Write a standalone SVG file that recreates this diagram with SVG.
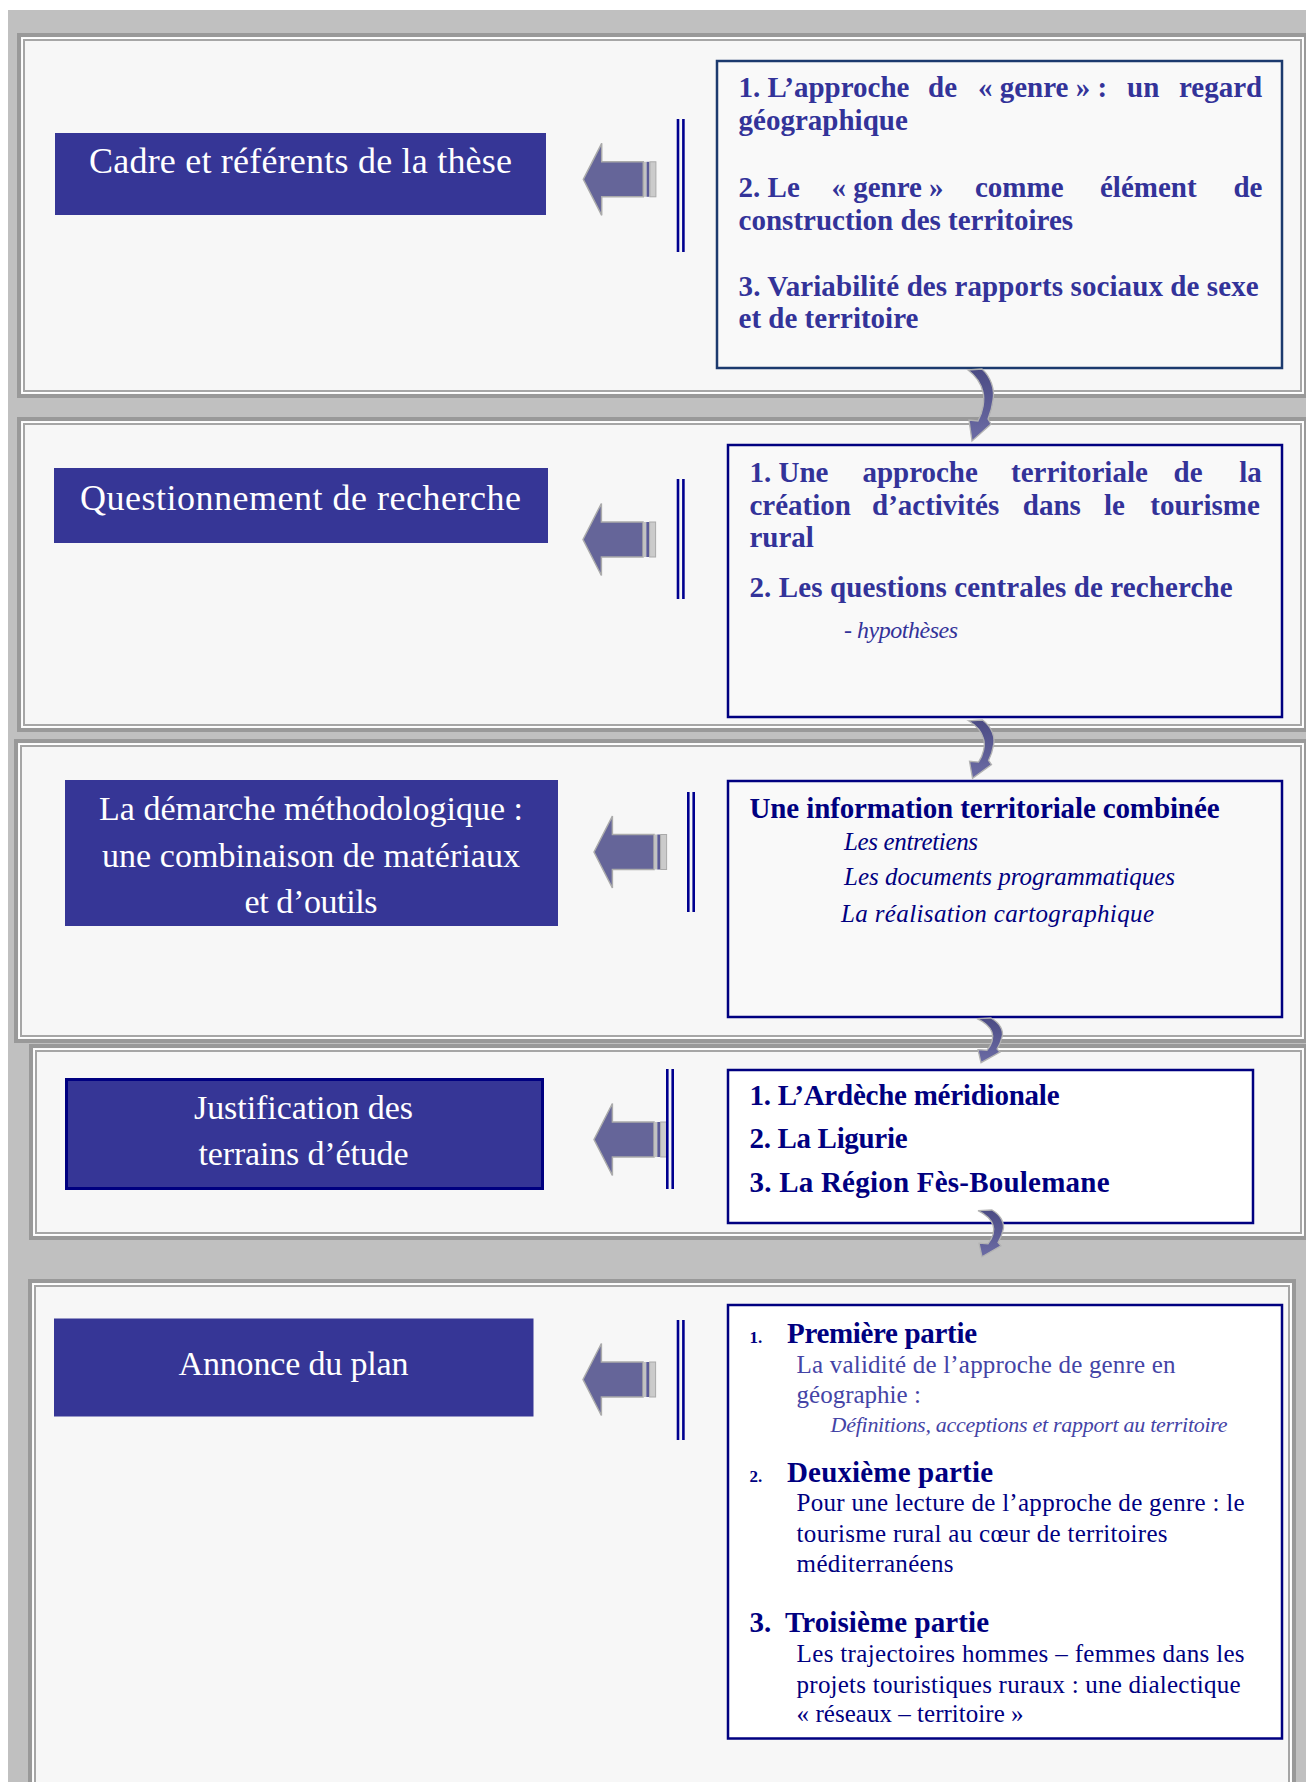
<svg xmlns="http://www.w3.org/2000/svg" xmlns:xlink="http://www.w3.org/1999/xlink" width="1306" height="1782" viewBox="0 0 1306 1782">
<style>
.pa{fill:#f7f7f7;stroke:#999;stroke-width:4}
.pb{fill:none;stroke:#fff;stroke-width:1.5}
.pc{fill:none;stroke:#a6a6a6;stroke-width:2}
.blue{fill:#363696}
.rbox{fill:#f9f9f9;stroke:#000080;stroke-width:2.5}
.wbox{fill:#fff;stroke:#000080;stroke-width:2.5}
.ttl{font-family:"Liberation Serif","Times New Roman",serif;fill:#fff;text-anchor:middle}
.tx{font-family:"Liberation Serif","Times New Roman",serif}
.b29{font-size:29px;font-weight:bold}
.c1{fill:#333399}
.c2{fill:#000080}
.c3{fill:#4444a6}
.it{font-style:italic}
.dl{stroke:#00008f;stroke-width:2.6}
</style>
<defs>
<linearGradient id="curlGrad" x1="0" y1="0" x2="0" y2="1">
<stop offset="0" stop-color="#4b4b84"/>
<stop offset="1" stop-color="#6c6ca5"/>
</linearGradient>
<path id="curl" d="M 0 1 L 14 0 C 23 8, 27 21, 25 31 C 24 39, 22 45, 20 50 L 23 55 L 4 72 L 1 51 L 10 52 C 15 43, 17 31, 15 23 C 13 14, 8 7, 0 1 Z" fill="url(#curlGrad)" stroke="#b3b3b3" stroke-width="1.3" vector-effect="non-scaling-stroke"/>
<g id="larrow">
<path d="M0,0 L18.4,-36 L18.4,-17.5 L60,-17.5 L60,17.5 L18.4,17.5 L18.4,36 Z" fill="#656599" stroke="#ababab" stroke-width="1.5"/>
<rect x="60.5" y="-17.5" width="2.8" height="35" fill="#c2c2c2"/>
<rect x="63.3" y="-17.5" width="2.8" height="35" fill="#5a5a96"/>
<rect x="66.6" y="-17.5" width="6" height="35" fill="#cbcbcb" stroke="#aaa" stroke-width="1"/>
</g>
</defs>

<rect x="0" y="0" width="1306" height="1782" fill="#fff"/>
<rect x="8" y="10" width="1298" height="1772" fill="#c0c0c0"/>

<g id="panel1">
<rect class="pa" x="19" y="35" width="1287" height="361"/>
<rect class="pb" x="22.25" y="38.25" width="1280.5" height="354.5"/>
<rect class="pc" x="24" y="40" width="1277" height="351"/>
</g>
<g id="panel2">
<rect class="pa" x="19" y="419" width="1287" height="311"/>
<rect class="pb" x="22.25" y="422.25" width="1280.5" height="304.5"/>
<rect class="pc" x="24" y="424" width="1277" height="301"/>
</g>
<g id="panel3">
<rect class="pa" x="16" y="741" width="1290" height="300"/>
<rect class="pb" x="19.25" y="744.25" width="1283.5" height="293.5"/>
<rect class="pc" x="21" y="746" width="1280" height="290"/>
</g>
<g id="panel4">
<rect class="pa" x="31" y="1046" width="1275" height="192"/>
<rect class="pb" x="34.25" y="1049.25" width="1268.5" height="185.5"/>
<rect class="pc" x="36" y="1051" width="1265" height="182"/>
</g>
<g id="panel5">
<rect class="pa" x="30" y="1281" width="1264" height="517"/>
<rect class="pb" x="33.25" y="1284.25" width="1257.5" height="510.5"/>
<rect class="pc" x="35" y="1286" width="1254" height="507"/>
</g>

<g id="title1">
<rect class="blue" x="55" y="133" width="491" height="82"/>
<text class="ttl" x="300.5" y="173" font-size="36" textLength="423">Cadre et référents de la thèse</text>
</g>
<g id="title2">
<rect class="blue" x="54" y="468" width="494" height="75"/>
<text class="ttl" x="300.5" y="510" font-size="36" textLength="441">Questionnement de recherche</text>
</g>
<g id="title3">
<rect class="blue" x="65" y="780" width="493" height="146"/>
<text class="ttl" x="311" y="820" font-size="34" textLength="424">La démarche méthodologique :</text>
<text class="ttl" x="311" y="867" font-size="34" textLength="418">une combinaison de matériaux</text>
<text class="ttl" x="311" y="913" font-size="34" textLength="133">et d’outils</text>
</g>
<g id="title4">
<rect class="blue" x="66.5" y="1079.5" width="476" height="109" stroke="#000080" stroke-width="3"/>
<text class="ttl" x="303.5" y="1119" font-size="34" textLength="219">Justification des</text>
<text class="ttl" x="303.5" y="1165" font-size="34" textLength="210">terrains d’étude</text>
</g>
<g id="title5">
<rect class="blue" x="54" y="1318.5" width="479.5" height="98"/>
<text class="ttl" x="293.5" y="1375" font-size="34" textLength="230">Annonce du plan</text>
</g>

<g id="content1">
<rect class="rbox" x="717" y="61" width="565" height="307" style="stroke:#1c3a6e"/>
<text class="tx b29 c1" y="97"><tspan x="738.6">1. L’approche</tspan><tspan x="928">de</tspan><tspan x="978">« genre » :</tspan><tspan x="1127">un</tspan><tspan x="1179">regard</tspan></text>
<text class="tx b29 c1" x="738.6" y="130">géographique</text>
<text class="tx b29 c1" y="197"><tspan x="738.6">2. Le</tspan><tspan x="831.4">« genre »</tspan><tspan x="975">comme</tspan><tspan x="1100">élément</tspan><tspan x="1233.4">de</tspan></text>
<text class="tx b29 c1" x="738.6" y="230">construction des territoires</text>
<text class="tx b29 c1" x="738.6" y="296" textLength="520">3. Variabilité des rapports sociaux de sexe</text>
<text class="tx b29 c1" x="738.6" y="328">et de territoire</text>
</g>

<g id="content2">
<rect class="rbox" x="728" y="445" width="554" height="272"/>
<text class="tx b29 c1" y="482"><tspan x="749.5">1. Une</tspan><tspan x="862.4">approche</tspan><tspan x="1011">territoriale</tspan><tspan x="1173.5">de</tspan><tspan x="1239.2">la</tspan></text>
<text class="tx b29 c1" y="515"><tspan x="749.5">création</tspan><tspan x="872">d’activités</tspan><tspan x="1022.8">dans</tspan><tspan x="1104">le</tspan><tspan x="1150.3">tourisme</tspan></text>
<text class="tx b29 c1" x="749.5" y="547">rural</text>
<text class="tx b29 c1" x="749.5" y="597" textLength="483">2. Les questions centrales de recherche</text>
<text class="tx it c1" x="844" y="638" font-size="24" textLength="114">- hypothèses</text>
</g>

<g id="content3">
<rect class="rbox" x="728" y="781" width="554" height="236"/>
<text class="tx b29 c2" x="749.5" y="818" textLength="470">Une information territoriale combinée</text>
<text class="tx it c2" x="844" y="850" font-size="25" textLength="134">Les entretiens</text>
<text class="tx it c2" x="844" y="885" font-size="25" textLength="331">Les documents programmatiques</text>
<text class="tx it c2" x="841" y="922" font-size="25" textLength="313">La réalisation cartographique</text>
</g>

<g id="content4">
<rect class="wbox" x="728" y="1070" width="525" height="153"/>
<text class="tx b29 c2" x="749.5" y="1105" textLength="310">1. L’Ardèche méridionale</text>
<text class="tx b29 c2" x="749.5" y="1148" textLength="158">2. La Ligurie</text>
<text class="tx b29 c2" x="749.5" y="1192" textLength="360">3. La Région Fès-Boulemane</text>
</g>

<g id="content5">
<rect class="wbox" x="728" y="1305" width="554" height="433.5"/>
<text class="tx c2" x="749.5" y="1343" font-size="17" font-weight="bold">1.</text>
<text class="tx b29 c2" x="787" y="1343" textLength="190">Première partie</text>
<text class="tx c3" x="796.6" y="1373" font-size="25" textLength="379">La validité de l’approche de genre en</text>
<text class="tx c3" x="796.6" y="1402.5" font-size="25">géographie :</text>
<text class="tx it c3" x="830.6" y="1432" font-size="22" textLength="397">Définitions, acceptions et rapport au territoire</text>
<text class="tx c2" x="749.5" y="1482" font-size="17" font-weight="bold">2.</text>
<text class="tx b29 c2" x="787" y="1482" textLength="206">Deuxième partie</text>
<text class="tx c2" x="796.6" y="1511" font-size="25" textLength="448">Pour une lecture de l’approche de genre : le</text>
<text class="tx c2" x="796.6" y="1542" font-size="25" textLength="371">tourisme rural au cœur de territoires</text>
<text class="tx c2" x="796.6" y="1572" font-size="25" textLength="157">méditerranéens</text>
<text class="tx b29 c2" x="749.5" y="1632">3.</text>
<text class="tx b29 c2" x="785" y="1632" textLength="204">Troisième partie</text>
<text class="tx c2" x="796.6" y="1662" font-size="25" textLength="448">Les trajectoires hommes – femmes dans les</text>
<text class="tx c2" x="796.6" y="1693" font-size="25" textLength="444">projets touristiques ruraux : une dialectique</text>
<text class="tx c2" x="796.6" y="1722" font-size="25" textLength="227">« réseaux – territoire »</text>
</g>

<g id="connectors">
<use xlink:href="#larrow" href="#larrow" transform="translate(583.3,179.3)"/>
<use xlink:href="#larrow" href="#larrow" transform="translate(583,539.5)"/>
<use xlink:href="#larrow" href="#larrow" transform="translate(594,852)"/>
<use xlink:href="#larrow" href="#larrow" transform="translate(594,1139.5)"/>
<use xlink:href="#larrow" href="#larrow" transform="translate(583,1379.5)"/>
<line class="dl" x1="678" y1="119" x2="678" y2="252"/>
<line class="dl" x1="683.4" y1="119" x2="683.4" y2="252"/>
<line class="dl" x1="678" y1="479" x2="678" y2="599"/>
<line class="dl" x1="683.4" y1="479" x2="683.4" y2="599"/>
<line class="dl" x1="688.3" y1="792" x2="688.3" y2="912"/>
<line class="dl" x1="693.7" y1="792" x2="693.7" y2="912"/>
<line class="dl" x1="667.3" y1="1069" x2="667.3" y2="1189"/>
<line class="dl" x1="672.7" y1="1069" x2="672.7" y2="1189"/>
<line class="dl" x1="678" y1="1320" x2="678" y2="1440"/>
<line class="dl" x1="683.4" y1="1320" x2="683.4" y2="1440"/>
<use xlink:href="#curl" href="#curl" transform="translate(968,369)"/>
<use xlink:href="#curl" href="#curl" transform="translate(968.5,720) scale(1,0.81)"/>
<use xlink:href="#curl" href="#curl" transform="translate(977,1018) scale(1,0.62)"/>
<use xlink:href="#curl" href="#curl" transform="translate(978,1210) scale(1,0.65)"/>
</g>
</svg>
